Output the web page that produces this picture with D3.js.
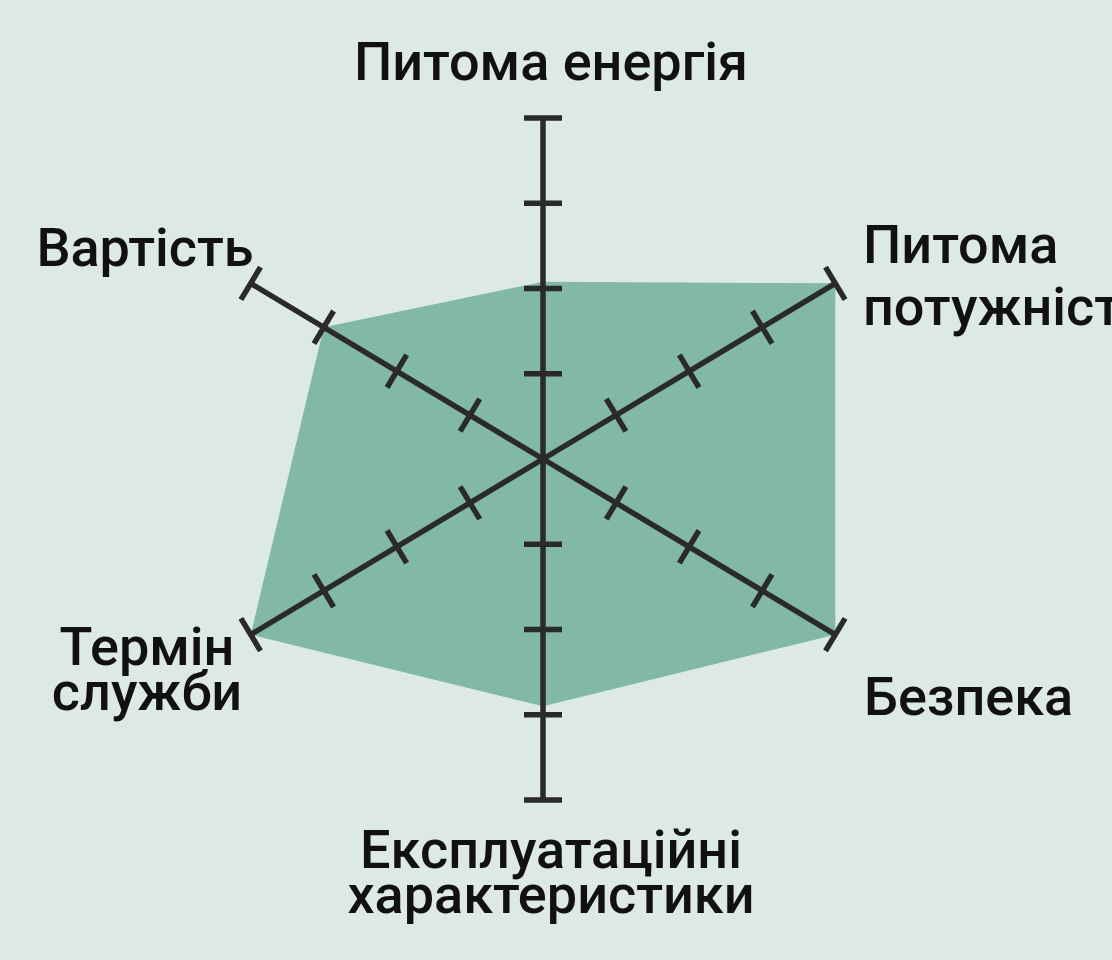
<!DOCTYPE html>
<html>
<head>
<meta charset="utf-8">
<script src="https://cdn.jsdelivr.net/npm/d3@7"></script>
<style>
  html, body { margin: 0; padding: 0; background: #dde9e5; }
  svg { display: block; }
</style>
</head>
<body>
<svg id="chart" width="1112" height="960"></svg>
<script>
// ---- data ----
const categories = ["Питома енергія", "Питома потужність", "Безпека",
                    "Експлуатаційні характеристики", "Термін служби", "Вартість"];
const values = [2.08, 4, 4, 2.9, 4, 3];
const tickValues = [1, 2, 3, 4];
const labelLines = [
  ["Питома енергія"],
  ["Питома", "потужність"],
  ["Безпека"],
  ["Експлуатаційні", "характеристики"],
  ["Термін", "служби"],
  ["Вартість"]
];

// ---- layout ----
const W = 1112, H = 960;
const cx = 543, cy = 459;
const R = 341;
const axisAngleDeg = [0, 59, 121, 180, 239, 301];   // clockwise from top
const labelLayout = [
  { x: 551, y: 80,  anchor: "middle", lh: 0 },
  { x: 863, y: 263, anchor: "start",  lh: 62 },
  { x: 864, y: 715, anchor: "start",  lh: 0 },
  { x: 551, y: 868, anchor: "middle", lh: 45 },
  { x: 147, y: 665, anchor: "middle", lh: 45 },
  { x: 145, y: 266, anchor: "middle", lh: 0 }
];

const bg = "#dde9e5", fillCol = "#82b8a8", ink = "#2a2a2a";

const svg = d3.select("#chart");
svg.append("rect").attr("width", W).attr("height", H).attr("fill", bg);

const r = d3.scaleLinear().domain([0, 4]).range([0, R]);
const angle = d3.scaleOrdinal().domain(categories)
  .range(axisAngleDeg.map(d => d * Math.PI / 180));

const g = svg.append("g").attr("transform", `translate(${cx},${cy})`);

// data polygon
const radial = d3.lineRadial()
  .angle((d, i) => angle(categories[i]))
  .radius(d => r(d))
  .curve(d3.curveLinearClosed);
g.append("path")
  .datum(values)
  .attr("d", radial)
  .attr("fill", fillCol)
  .attr("stroke", "none");

// axes
const axes = g.selectAll("g.axis").data(categories).join("g")
  .attr("class", "axis")
  .attr("transform", d => `rotate(${angle(d) * 180 / Math.PI})`);

axes.append("line")
  .attr("x1", 0).attr("y1", 0)
  .attr("x2", 0).attr("y2", -r(4))
  .attr("stroke", ink).attr("stroke-width", 5.5);

const tickHalf = 19;
axes.selectAll("line.tick").data(tickValues).join("line")
  .attr("class", "tick")
  .attr("x1", -tickHalf).attr("x2", tickHalf)
  .attr("y1", d => -r(d)).attr("y2", d => -r(d))
  .attr("stroke", ink).attr("stroke-width", 5.5);

// labels
const labels = svg.selectAll("text.lbl").data(categories).join("text")
  .attr("class", "lbl")
  .attr("x", (d, i) => labelLayout[i].x)
  .attr("y", (d, i) => labelLayout[i].y)
  .attr("text-anchor", (d, i) => labelLayout[i].anchor)
  .attr("font-family", "Roboto, 'Noto Sans', sans-serif")
  .attr("font-size", 54)
  .attr("font-weight", 500)
  .attr("fill", "#111");

labels.each(function (d, i) {
  const t = d3.select(this);
  labelLines[i].forEach((line, j) => {
    t.append("tspan")
      .attr("x", labelLayout[i].x)
      .attr("dy", j === 0 ? 0 : labelLayout[i].lh)
      .text(line);
  });
});
</script>
</body>
</html>
